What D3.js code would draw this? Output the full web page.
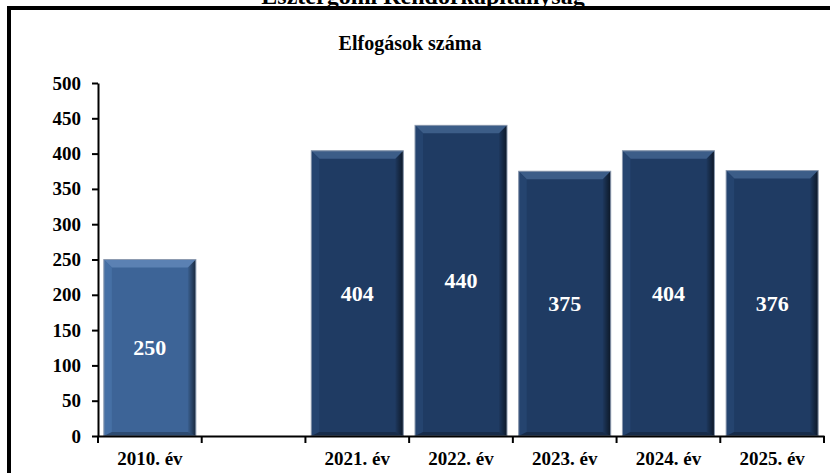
<!DOCTYPE html>
<html>
<head>
<meta charset="utf-8">
<script src="https://cdn.jsdelivr.net/npm/d3@7"></script>
<style>
  body { margin: 0; background: #fff; }
  svg text { font-family: "Liberation Serif", "Times New Roman", Times, "DejaVu Serif", serif !important; font-weight: bold; }
</style>
</head>
<body>
<div id="chart"></div>
<script>
var categories = ["2010. év", "", "2021. év", "2022. év", "2023. év", "2024. év", "2025. év"];
var values = [250, null, 404, 440, 375, 404, 376];
var yTicks = [0, 50, 100, 150, 200, 250, 300, 350, 400, 450, 500];
var title = "Esztergomi Rendőrkapitányság";
var subtitle = "Elfogások száma";

var width = 830, height = 473;
var margin = {top: 83, right: 6, bottom: 37, left: 98};
var serif = "'Liberation Serif', 'Times New Roman', Times, 'DejaVu Serif', serif";

var svg = d3.select("#chart").append("svg")
    .attr("width", width)
    .attr("height", height)
    .attr("font-family", serif);

var defs = svg.append("defs");

// right-side shadow gradient
var gr = defs.append("linearGradient").attr("id", "shadeR").attr("x1", 0).attr("x2", 1).attr("y1", 0).attr("y2", 0);
gr.append("stop").attr("offset", "0%").attr("stop-color", "#000").attr("stop-opacity", 0.05);
gr.append("stop").attr("offset", "100%").attr("stop-color", "#000").attr("stop-opacity", 0.6);

// outer frame (right and bottom run off the page)
svg.append("rect")
    .attr("x", 9).attr("y", 8)
    .attr("width", 840).attr("height", 480)
    .attr("fill", "none")
    .attr("stroke", "#000")
    .attr("stroke-width", 4);

svg.append("text")
    .attr("x", 423).attr("y", 4)
    .attr("text-anchor", "middle")
    .style("font-size", "24px")
    .text(title);

svg.append("text")
    .attr("x", 410).attr("y", 50)
    .attr("text-anchor", "middle")
    .style("font-size", "20px")
    .text(subtitle);

var x = d3.scaleBand()
    .domain(categories)
    .range([margin.left, width - margin.right])
    .paddingInner(0.113)
    .paddingOuter(0.0565);

var y = d3.scaleLinear()
    .domain([0, 500])
    .range([height - margin.bottom, margin.top]);

// bars with bevel
var data = categories.map(function (c, i) { return {cat: c, value: values[i], idx: i}; })
    .filter(function (d) { return d.value !== null; });

var bars = svg.selectAll(".bar")
    .data(data)
    .enter().append("g")
    .attr("class", "bar");

var b = 8; // bevel size

bars.append("rect")
    .attr("x", function (d) { return x(d.cat); })
    .attr("y", function (d) { return y(d.value); })
    .attr("width", x.bandwidth())
    .attr("height", function (d) { return y(0) - y(d.value); })
    .attr("fill", function (d) { return d.idx === 0 ? "#3d6497" : "#1f3b63"; });

// top bevel
bars.append("polygon")
    .attr("points", function (d) {
        var x0 = x(d.cat), x1 = x0 + x.bandwidth(), y0 = y(d.value);
        return [[x0, y0], [x1, y0], [x1 - b, y0 + b], [x0 + b, y0 + b]].join(" ");
    })
    .attr("fill", function (d) { return d.idx === 0 ? "#5b81b3" : "#3c5d88"; });

// left bevel
bars.append("polygon")
    .attr("points", function (d) {
        var x0 = x(d.cat), y0 = y(d.value), y1 = y(0);
        return [[x0, y0], [x0 + b, y0 + b], [x0 + b, y1 - 4], [x0, y1]].join(" ");
    })
    .attr("fill", function (d) { return d.idx === 0 ? "#4670a5" : "#25446f"; });

// right bevel
bars.append("polygon")
    .attr("points", function (d) {
        var x1 = x(d.cat) + x.bandwidth(), y0 = y(d.value), y1 = y(0);
        return [[x1, y0], [x1, y1], [x1 - b, y1 - 4], [x1 - b, y0 + b]].join(" ");
    })
    .attr("fill", "url(#shadeR)");

// bottom bevel
bars.append("polygon")
    .attr("points", function (d) {
        var x0 = x(d.cat), x1 = x0 + x.bandwidth(), y1 = y(0);
        return [[x0, y1], [x0 + b, y1 - 4], [x1 - b, y1 - 4], [x1, y1]].join(" ");
    })
    .attr("fill", "#000").attr("fill-opacity", 0.25);

bars.append("rect")
    .attr("x", function (d) { return x(d.cat); })
    .attr("y", function (d) { return y(d.value); })
    .attr("width", x.bandwidth())
    .attr("height", function (d) { return y(0) - y(d.value); })
    .attr("fill", "none")
    .attr("stroke", "#8d9bb0")
    .attr("stroke-width", 1);

bars.append("text")
    .attr("x", function (d) { return x(d.cat) + x.bandwidth() / 2; })
    .attr("y", function (d) { return (y(d.value) + y(0)) / 2; })
    .attr("dy", "0.35em")
    .attr("text-anchor", "middle")
    .attr("fill", "#fff")
    .style("font-size", "22px")
    .text(function (d) { return d.value; });

// y axis
var yAxis = svg.append("g")
    .attr("transform", "translate(" + margin.left + ",0)")
    .call(d3.axisLeft(y).tickValues(yTicks).tickSize(6).tickSizeOuter(0).tickPadding(11))
    .attr("font-family", serif);
yAxis.selectAll("text").style("font-size", "19px").attr("fill", "#000");
yAxis.selectAll("line, path").attr("stroke", "#000").attr("stroke-width", 2);

// x axis: labels centered, ticks on category boundaries
var xAxis = svg.append("g")
    .attr("transform", "translate(0," + y(0) + ")")
    .call(d3.axisBottom(x).tickSize(0).tickSizeOuter(0).tickPadding(16))
    .attr("font-family", serif);
xAxis.selectAll("text").style("font-size", "19px").attr("fill", "#000");
xAxis.select("path").attr("stroke", "#000").attr("stroke-width", 2);

var bounds = d3.range(categories.length + 1).map(function (i) { return x.range()[0] + i * x.step(); });
xAxis.selectAll(".btick")
    .data(bounds)
    .enter().append("line")
    .attr("class", "btick")
    .attr("x1", function (d) { return d; })
    .attr("x2", function (d) { return d; })
    .attr("y1", 0).attr("y2", 7)
    .attr("stroke", "#000")
    .attr("stroke-width", 2);
</script>
</body>
</html>
